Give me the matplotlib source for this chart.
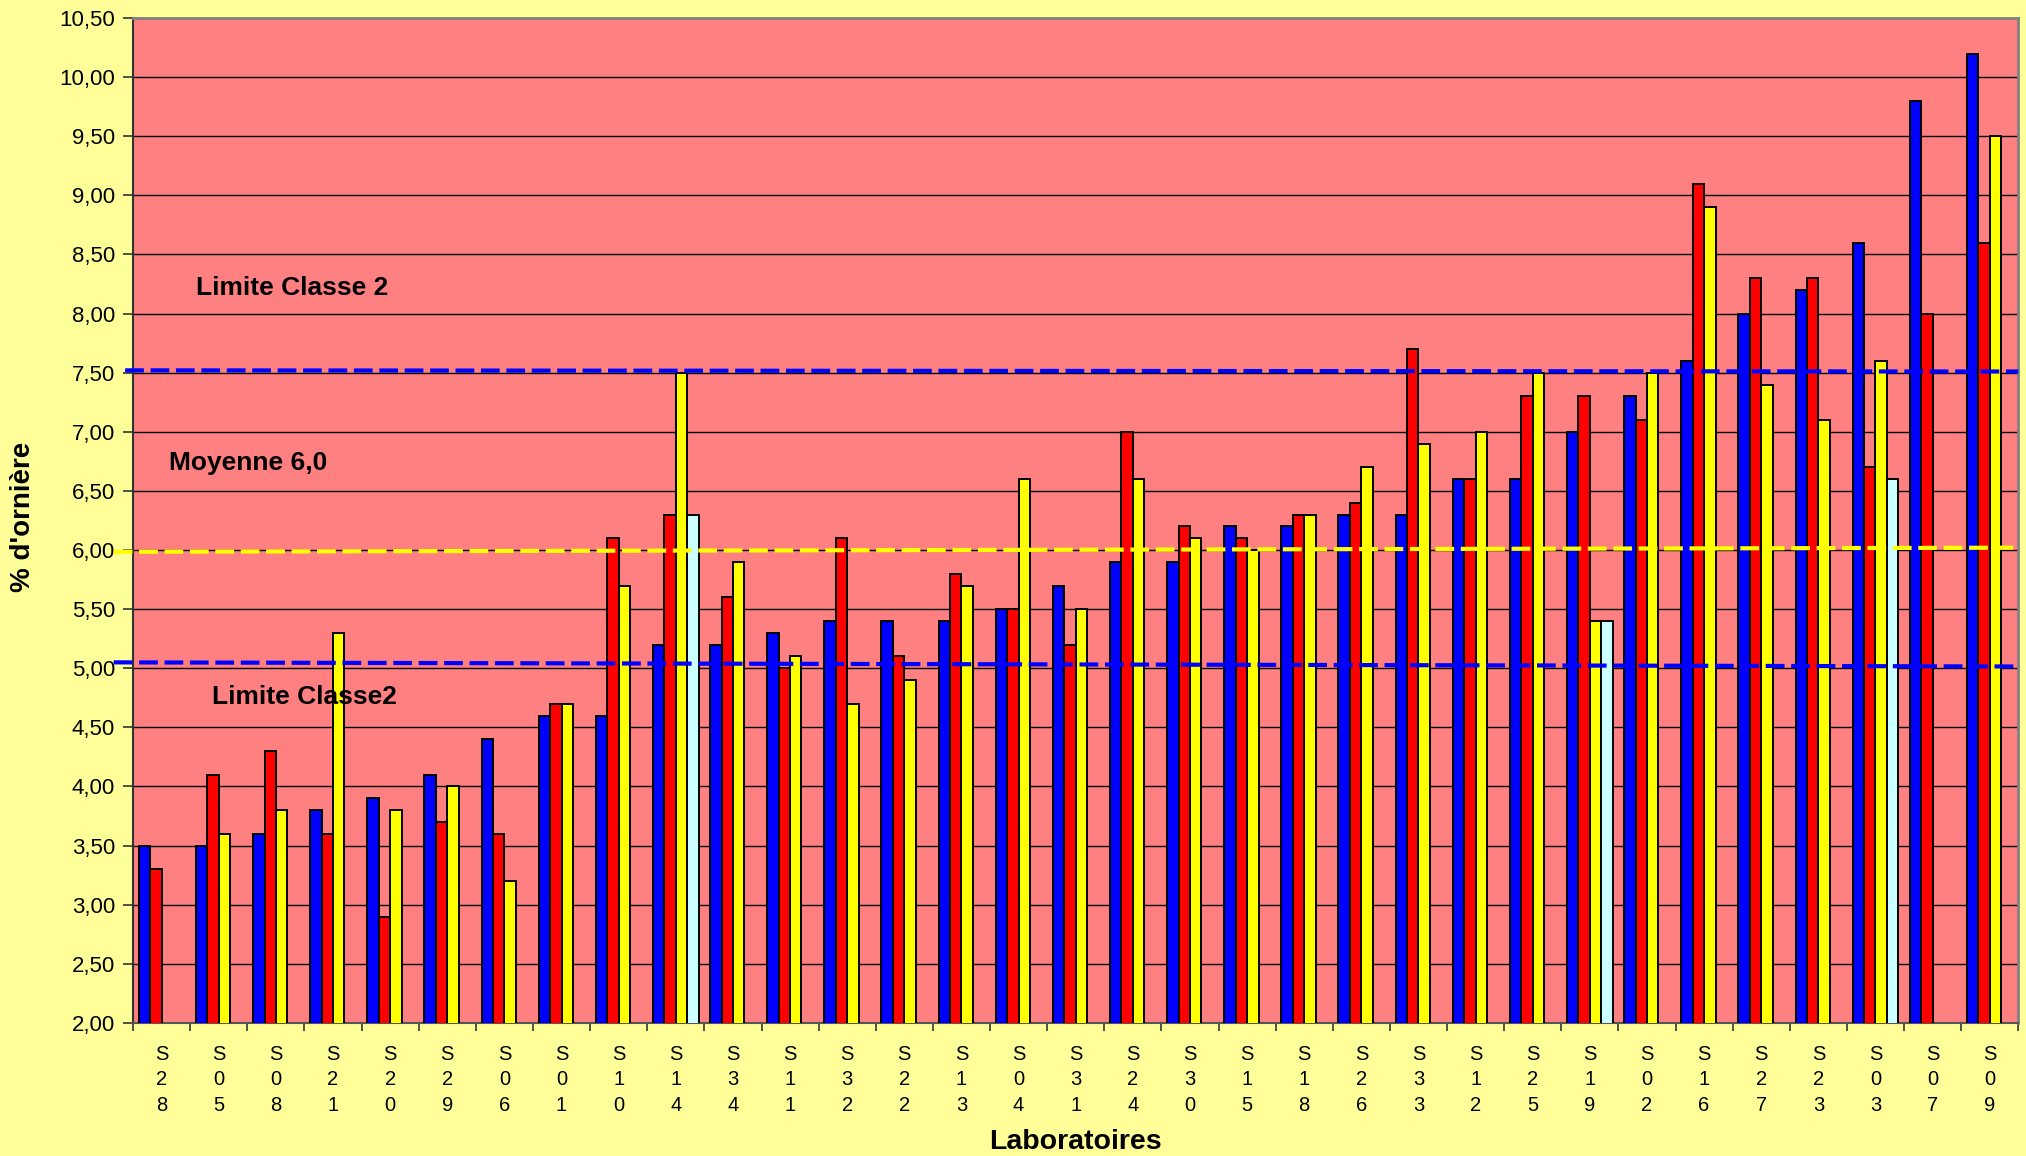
import numpy as np
import matplotlib
matplotlib.use("Agg")
import matplotlib.pyplot as plt
from matplotlib.ticker import FuncFormatter, FixedLocator

categories = ["S28", "S05", "S08", "S21", "S20", "S29", "S06", "S01", "S10", "S14", "S34",
              "S11", "S32", "S22", "S13", "S04", "S31", "S24", "S30", "S15", "S18", "S26",
              "S33", "S12", "S25", "S19", "S02", "S16", "S27", "S23", "S03", "S07", "S09"]

serie_bleue = [3.5, 3.5, 3.6, 3.8, 3.9, 4.1, 4.4, 4.6, 4.6, 5.2, 5.2,
               5.3, 5.4, 5.4, 5.4, 5.5, 5.7, 5.9, 5.9, 6.2, 6.2, 6.3,
               6.3, 6.6, 6.6, 7.0, 7.3, 7.6, 8.0, 8.2, 8.6, 9.8, 10.2]
serie_rouge = [3.3, 4.1, 4.3, 3.6, 2.9, 3.7, 3.6, 4.7, 6.1, 6.3, 5.6,
               5.0, 6.1, 5.1, 5.8, 5.5, 5.2, 7.0, 6.2, 6.1, 6.3, 6.4,
               7.7, 6.6, 7.3, 7.3, 7.1, 9.1, 8.3, 8.3, 6.7, 8.0, 8.6]
serie_jaune = [None, 3.6, 3.8, 5.3, 3.8, 4.0, 3.2, 4.7, 5.7, 7.5, 5.9,
               5.1, 4.7, 4.9, 5.7, 6.6, 5.5, 6.6, 6.1, 6.0, 6.3, 6.7,
               6.9, 7.0, 7.5, 5.4, 7.5, 8.9, 7.4, 7.1, 7.6, None, 9.5]
serie_cyan = [None, None, None, None, None, None, None, None, None, 6.3, None,
              None, None, None, None, None, None, None, None, None, None, None,
              None, None, None, 5.4, None, None, None, None, 6.6, None, None]

# Reference lines: (x start, x end) in category units, (y start, y end)
ligne_classe2_haut_x = [-0.64, 32.5]
ligne_classe2_haut_y = [7.52, 7.51]
ligne_moyenne_x = [-0.84, 32.5]
ligne_moyenne_y = [5.985, 6.02]
ligne_classe2_bas_x = [-0.84, 32.5]
ligne_classe2_bas_y = [5.05, 5.015]

y_ticks = [2.0, 2.5, 3.0, 3.5, 4.0, 4.5, 5.0, 5.5, 6.0, 6.5, 7.0, 7.5, 8.0,
           8.5, 9.0, 9.5, 10.0, 10.5]

FIG_BG = "#FFFF99"
PLOT_BG = "#FF8080"
FAM = ['Liberation Sans', 'DejaVu Sans']

plt.rcParams['font.family'] = FAM
fig = plt.figure(figsize=(20.26, 11.56), dpi=100, facecolor=FIG_BG)
ax = fig.add_axes([0.0657, 0.1151, 0.9305, 0.8693])
ax.set_facecolor(PLOT_BG)

series = [(serie_bleue, "#0000FF"), (serie_rouge, "#FF0000"),
          (serie_jaune, "#FFFF00"), (serie_cyan, "#CCFFFF")]
w = 0.2
n = len(series)
x = np.arange(len(categories))
for i, (vals, col) in enumerate(series):
    xs = [xi + (i - (n - 1) / 2) * w for xi, v in zip(x, vals) if v is not None]
    hs = [v for v in vals if v is not None]
    ax.bar(xs, hs, width=w, color=col, edgecolor="black", linewidth=1.4, zorder=3)

ax.set_ylim(2.0, 10.5)
ax.set_xlim(-0.5, len(categories) - 0.5)

ax.yaxis.set_major_locator(FixedLocator(y_ticks))
ax.yaxis.set_major_formatter(FuncFormatter(lambda v, p: f"{v:.2f}".replace(".", ",")))
ax.grid(axis="y", color="black", linewidth=1.0, zorder=1)
ax.set_axisbelow(True)

ax.set_xticks(np.arange(len(categories) + 1) - 0.5, minor=False)
ax.set_xticklabels([])
ax.set_xticks(x, minor=True)
ax.set_xticklabels(["\n".join(c) for c in categories], minor=True,
                   fontsize=14.5, linespacing=1.42, family=FAM)
ax.tick_params(axis="x", which="major", length=6, width=1.2, direction="out", color="#333333")
ax.tick_params(axis="x", which="minor", length=0, pad=16)
ax.tick_params(axis="y", length=7, width=1.2, direction="out", pad=6, labelsize=16, color="#333333")
for lab in ax.get_yticklabels():
    lab.set_family(FAM)

for s in ["top", "right"]:
    ax.spines[s].set_color("#808080")
    ax.spines[s].set_linewidth(2.0)
ax.spines["left"].set_color("#333333")
ax.spines["left"].set_linewidth(1.5)
ax.spines["bottom"].set_color("#555555")
ax.spines["bottom"].set_linewidth(1.5)

ax.plot(ligne_classe2_haut_x, ligne_classe2_haut_y, color="#0000FF", linewidth=3.0,
        dashes=(4.5, 1.6), zorder=4, clip_on=False)
ax.plot(ligne_moyenne_x, ligne_moyenne_y, color="#FFFF00", linewidth=3.0,
        dashes=(4.5, 1.6), zorder=4, clip_on=False)
ax.plot(ligne_classe2_bas_x, ligne_classe2_bas_y, color="#0000FF", linewidth=3.0,
        dashes=(4.5, 1.6), zorder=4, clip_on=False)

txt_kw = dict(fontsize=19, fontweight="bold", color="black", va="center", ha="left",
              family=FAM, transform=ax.get_yaxis_transform(), zorder=5)
ax.text(0.0336, 8.22, "Limite Classe 2", **txt_kw)
ax.text(0.0192, 6.74, "Moyenne 6,0", **txt_kw)
ax.text(0.0418, 4.76, "Limite Classe2", **txt_kw)

fig.text(0.0115, 0.553, "% d'ornière", rotation=90, ha="center", va="center",
         fontsize=20, fontweight="bold", family=FAM)
fig.text(0.531, 0.0125, "Laboratoires", ha="center", va="center",
         fontsize=20.5, fontweight="bold", family=FAM)

fig.savefig("out.png", dpi=100, facecolor=FIG_BG)
